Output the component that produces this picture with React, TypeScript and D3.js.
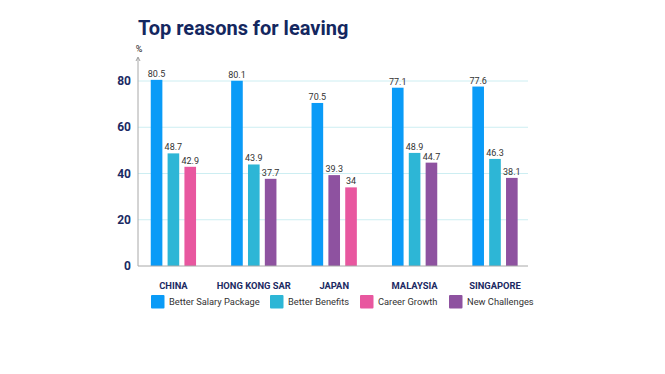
import { useEffect, useRef } from 'react';
import * as d3 from 'd3';

const categories = ['CHINA', 'HONG KONG SAR', 'JAPAN', 'MALAYSIA', 'SINGAPORE'];
const reasons = ['Better Salary Package', 'Better Benefits', 'Career Growth', 'New Challenges'];
const reasonColors = ['#0a9bf7', '#2db6d6', '#e8579f', '#8e52a0'];

// each country shows its top three reasons, in the order drawn
const chinaBars = [
  { reason: 'Better Salary Package', value: 80.5 },
  { reason: 'Better Benefits', value: 48.7 },
  { reason: 'Career Growth', value: 42.9 },
];
const hongKongBars = [
  { reason: 'Better Salary Package', value: 80.1 },
  { reason: 'Better Benefits', value: 43.9 },
  { reason: 'New Challenges', value: 37.7 },
];
const japanBars = [
  { reason: 'Better Salary Package', value: 70.5 },
  { reason: 'New Challenges', value: 39.3 },
  { reason: 'Career Growth', value: 34 },
];
const malaysiaBars = [
  { reason: 'Better Salary Package', value: 77.1 },
  { reason: 'Better Benefits', value: 48.9 },
  { reason: 'New Challenges', value: 44.7 },
];
const singaporeBars = [
  { reason: 'Better Salary Package', value: 77.6 },
  { reason: 'Better Benefits', value: 46.3 },
  { reason: 'New Challenges', value: 38.1 },
];
const countryBars = [chinaBars, hongKongBars, japanBars, malaysiaBars, singaporeBars];
const yTicks = [0, 20, 40, 60, 80];

const App = () => {
  const svgRef = useRef<SVGSVGElement>(null);

  useEffect(() => {
    if (!svgRef.current) return;
    const svg = d3.select(svgRef.current);
    svg.selectAll('*').remove();

    const font = 'Roboto, "Noto Sans", sans-serif';
    const left = 138;
    const right = 528;
    const bottom = 266;
    const groupWidth = 45.3;

    const x = d3.scaleBand<string>().domain(categories).range([133.2, 535.2]);
    const inner = d3.scaleBand<number>().domain([0, 1, 2]).range([0, groupWidth]).paddingInner(0.31);
    const y = d3.scaleLinear().domain([0, 80]).range([bottom, 81]);
    const color = d3.scaleOrdinal<string, string>().domain(reasons).range(reasonColors);

    // title
    svg
      .append('text')
      .attr('x', 138)
      .attr('y', 35)
      .style('font-family', font)
      .style('font-weight', 700)
      .style('font-size', '20px')
      .attr('fill', '#14275f')
      .text('Top reasons for leaving');

    // grid
    svg
      .append('g')
      .selectAll('line')
      .data(yTicks.filter((t) => t > 0))
      .join('line')
      .attr('x1', left)
      .attr('x2', right)
      .attr('y1', (d) => y(d))
      .attr('y2', (d) => y(d))
      .attr('stroke', '#cdeef2')
      .attr('stroke-width', 1);

    // y tick labels
    svg
      .append('g')
      .selectAll('text')
      .data(yTicks)
      .join('text')
      .attr('x', 131)
      .attr('y', (d) => y(d) + 4)
      .attr('text-anchor', 'end')
      .style('font-family', font)
      .style('font-weight', 700)
      .style('font-size', '12px')
      .attr('fill', '#1b2a63')
      .text((d) => d);

    // axes
    svg
      .append('line')
      .attr('x1', left)
      .attr('x2', left)
      .attr('y1', 58)
      .attr('y2', bottom)
      .attr('stroke', '#a8a8a8');
    svg
      .append('path')
      .attr('d', `M${left - 2},${61} L${left},${57} L${left + 2},${61}`)
      .attr('fill', 'none')
      .attr('stroke', '#888')
      .attr('stroke-width', 0.8);
    svg
      .append('text')
      .attr('x', 139)
      .attr('y', 52)
      .attr('text-anchor', 'middle')
      .style('font-family', font)
      .style('font-size', '9px')
      .attr('fill', '#222')
      .text('%');

    // bars
    const groups = svg
      .append('g')
      .selectAll('g')
      .data(countryBars)
      .join('g')
      .attr(
        'transform',
        (_, i) => `translate(${x(categories[i])! + x.bandwidth() / 2 - groupWidth / 2},0)`
      );

    groups
      .selectAll('rect')
      .data((d) => d)
      .join('rect')
      .attr('x', (_, i) => inner(i)!)
      .attr('y', (d) => y(d.value))
      .attr('width', inner.bandwidth())
      .attr('height', (d) => bottom - y(d.value))
      .attr('fill', (d) => color(d.reason));

    groups
      .selectAll('text')
      .data((d) => d)
      .join('text')
      .attr('x', (_, i) => inner(i)! + inner.bandwidth() / 2)
      .attr('y', (d) => y(d.value) - 3)
      .attr('text-anchor', 'middle')
      .style('font-family', font)
      .style('font-size', '9px')
      .attr('fill', '#333')
      .text((d) => d.value);

    svg
      .append('line')
      .attr('x1', left)
      .attr('x2', right)
      .attr('y1', bottom)
      .attr('y2', bottom)
      .attr('stroke', '#a8a8a8');

    // category labels
    svg
      .append('g')
      .selectAll('text')
      .data(categories)
      .join('text')
      .attr('x', (d) => x(d)! + x.bandwidth() / 2)
      .attr('y', 289)
      .attr('text-anchor', 'middle')
      .style('font-family', font)
      .style('font-weight', 700)
      .style('font-size', '9.4px')
      .attr('fill', '#1b2a63')
      .text((d) => d);

    // legend
    const legendX = [151, 270, 360, 449];
    const legend = svg
      .append('g')
      .selectAll('g')
      .data(reasons)
      .join('g')
      .attr('transform', (_, i) => `translate(${legendX[i]},295)`);
    legend
      .append('rect')
      .attr('width', 13.5)
      .attr('height', 13.5)
      .attr('rx', 1)
      .attr('fill', (d) => color(d));
    legend
      .append('text')
      .attr('x', 18)
      .attr('y', 10)
      .style('font-family', font)
      .style('font-size', '9.3px')
      .attr('fill', '#333')
      .text((d) => d);
  }, []);

  return (
    <div style={{ position: 'absolute', left: 0, top: 0 }}>
      <svg ref={svgRef} width={665} height={374} style={{ display: 'block', background: '#fff' }} />
    </div>
  );
};

export default App;
